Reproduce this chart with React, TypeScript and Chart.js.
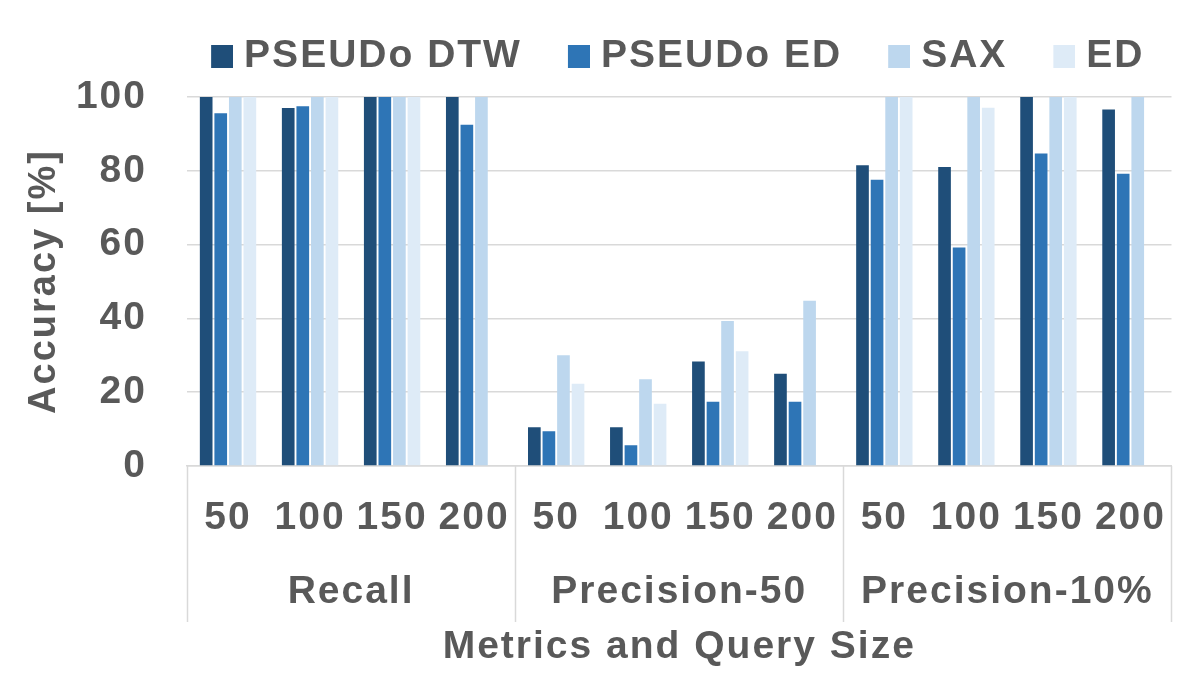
import React, { useEffect, useRef } from 'react';
import { Chart, registerables, layouts } from 'chart.js';

Chart.register(...registerables);

// ---------- data ----------
const sizeLabels = ['50', '100', '150', '200', '50', '100', '150', '200', '50', '100', '150', '200'];
const groupLabels = ['Recall', 'Precision-50', 'Precision-10%'];
const seriesNames = ['PSEUDo DTW', 'PSEUDo ED', 'SAX', 'ED'];
const pseudoDtw = [100, 97, 100, 100, 10.5, 10.5, 28.3, 25, 81.5, 81, 100, 96.6];
const pseudoEd = [95.6, 97.5, 100, 92.5, 9.4, 5.6, 17.4, 17.4, 77.6, 59.2, 84.7, 79.2];
const sax = [100, 100, 100, 100, 30, 23.5, 39.3, 44.8, 100, 100, 100, 100];
const ed = [100, 100, 100, null, 22.3, 16.9, 31.1, null, 100, 97.1, 100, null];
const yMin = 0;
const yMax = 100;
const yStep = 20;
const yTitle = 'Accuracy [%]';
const xTitle = 'Metrics and Query Size';

// ---------- style ----------
const seriesColors = ['#1F4E79', '#2E75B6', '#BDD7EE', '#DEEBF7'];
const TEXT = '#595959';
const GRID = '#d9d9d9';
const FAMILY = '"Liberation Sans", Arial, Helvetica, sans-serif';
const FS = 39;
const LETTER_SPACING = '2px';
const W = 1196;
const H = 692;

const SW_BOX = 22;
const SW_H = 23;
const PS_WIDTH = 32;
const LEGEND_PAD = 27.5;
const SW_W = PS_WIDTH + 17;

function makeSwatch(color: string) {
  const c = document.createElement('canvas');
  c.width = SW_W;
  c.height = SW_H;
  const g = c.getContext('2d')!;
  g.fillStyle = color;
  g.fillRect(SW_W - SW_BOX, 0, SW_BOX, SW_H);
  return c;
}

const spacingPlugin = {
  id: 'letterSpacingPlugin',
  beforeUpdate(chart: any) {
    chart.ctx.letterSpacing = LETTER_SPACING;
  },
  beforeDraw(chart: any) {
    chart.ctx.letterSpacing = LETTER_SPACING;
  },
};

const spacerPlugin = {
  id: 'legendSpacer',
  beforeInit(chart: any) {
    const box: any = {
      position: 'top',
      weight: 500,
      fullSize: true,
      options: {},
      top: 0, left: 0, right: 0, bottom: 0, width: 0, height: 0,
      isHorizontal: () => true,
      update(maxWidth: number) {
        box.width = maxWidth;
        box.height = 11.5;
      },
      draw() {},
    };
    layouts.addBox(chart, box);
  },
};

const separatorPlugin = {
  id: 'groupSeparators',
  afterDraw(chart: any) {
    const x2 = chart.scales.x2;
    const ctx = chart.ctx;
    const top = chart.chartArea.bottom;
    const bottom = x2.top + 66;
    ctx.save();
    ctx.strokeStyle = GRID;
    ctx.lineWidth = 1.5;
    for (let g = 0; g <= groupLabels.length; g++) {
      const px = Math.round(x2.getPixelForValue(g - 0.5)) + 0.5;
      ctx.beginPath();
      ctx.moveTo(px, top);
      ctx.lineTo(px, bottom);
      ctx.stroke();
    }
    ctx.restore();
  },
};

export default function App() {
  const ref = useRef<HTMLCanvasElement | null>(null);

  useEffect(() => {
    if (!ref.current) return;
    const swatches = seriesColors.map(makeSwatch);
    const seriesData = [pseudoDtw, pseudoEd, sax, ed];
    const font = { family: FAMILY, size: FS, weight: 'bold' as const };

    const chart = new Chart(ref.current, {
      type: 'bar',
      data: {
        labels: sizeLabels,
        datasets: seriesNames.map((name, i) => ({
          label: name,
          data: seriesData[i] as any,
          backgroundColor: seriesColors[i],
          borderWidth: 0,
          categoryPercentage: 0.71,
          barPercentage: 0.87,
        })),
      },
      options: {
        animation: false,
        responsive: false,
        devicePixelRatio: 1,
        layout: { padding: { top: 9, right: 24, bottom: 0, left: 0 } },
        plugins: {
          tooltip: { enabled: false },
          legend: {
            position: 'top',
            align: 'end',
            labels: {
              usePointStyle: true,
              pointStyleWidth: PS_WIDTH,
              padding: LEGEND_PAD,
              color: TEXT,
              font,
              generateLabels: (c: any) =>
                (Chart.defaults.plugins.legend.labels.generateLabels as any)(c).map((it: any) => ({
                  ...it,
                  pointStyle: swatches[it.datasetIndex],
                })),
            },
          },
        },
        scales: {
          x: {
            type: 'category',
            position: 'bottom',
            weight: 0,
            offset: true,
            grid: { display: false, drawTicks: false },
            border: { display: true, color: GRID, width: 1.5 },
            ticks: { color: TEXT, font, padding: 29, autoSkip: false, maxRotation: 0 },
            afterFit: (s: any) => {
              s.height = 90;
            },
          },
          x2: {
            type: 'category',
            position: 'bottom',
            weight: 1,
            labels: groupLabels,
            offset: true,
            grid: { display: false, drawTicks: false },
            border: { display: false },
            ticks: { color: TEXT, font, padding: 13, autoSkip: false, maxRotation: 0 },
            title: {
              display: true,
              text: xTitle,
              color: TEXT,
              font,
              padding: { top: 0, bottom: 21 },
            },
            afterFit: (s: any) => {
              s.height = 136;
            },
          },
          y: {
            min: yMin,
            max: yMax,
            grid: { color: GRID, lineWidth: 1.5, drawTicks: false },
            border: { display: false },
            ticks: { stepSize: yStep, color: TEXT, font, padding: 40 },
            title: {
              display: true,
              text: yTitle,
              color: TEXT,
              font: { family: FAMILY, size: 38, weight: 'bold' },
              padding: { top: 22, bottom: 0 },
            },
            afterFit: (s: any) => {
              s.width = 187;
            },
          },
        },
      } as any,
      plugins: [spacingPlugin, spacerPlugin, separatorPlugin],
    });

    return () => chart.destroy();
  }, []);

  return (
    <div style={{ position: 'absolute', left: 0, top: 0, width: W, height: H, background: '#fff' }}>
      <canvas ref={ref} width={W} height={H} style={{ display: 'block', width: W, height: H }} />
    </div>
  );
}
